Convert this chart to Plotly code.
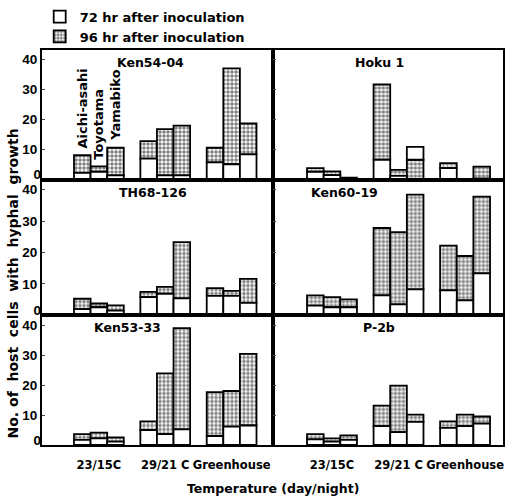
import plotly.graph_objects as go
from plotly.subplots import make_subplots

cultivars = ["Aichi-asahi", "Toyotama", "Yamabiko"]
conditions = ["23/15C", "29/21 C", "Greenhouse"]
isolates = ["Ken54-04", "Hoku 1", "TH68-126", "Ken60-19", "Ken53-33", "P-2b"]
y_ticks = [0, 10, 20, 30, 40]

# values ordered condition-major, cultivar-minor
ken5404_72 = [2.2, 2.6, 1.4, 7.0, 1.4, 1.4, 5.7, 5.1, 8.4]
ken5404_96 = [8.1, 4.4, 10.6, 12.8, 16.8, 18.0, 10.6, 37.1, 18.7]
hoku1_72 = [2.6, 1.5, 0.0, 6.6, 1.2, 10.9, 3.8, 0.0, 0.3]
hoku1_96 = [3.8, 2.7, 0.6, 31.7, 3.2, 6.6, 5.5, 0.0, 4.3]
th68_72 = [2.0, 2.6, 1.5, 5.8, 6.9, 5.4, 6.2, 6.2, 4.0]
th68_96 = [5.3, 3.8, 3.2, 7.5, 9.1, 23.3, 8.7, 7.8, 11.6]
ken6019_72 = [3.1, 2.6, 2.6, 6.4, 3.5, 8.3, 8.0, 4.8, 13.4]
ken6019_96 = [6.4, 5.8, 5.1, 27.8, 26.5, 38.4, 22.2, 18.9, 37.8]
ken5333_72 = [1.7, 2.2, 1.1, 5.0, 3.6, 5.2, 3.0, 6.1, 6.5]
ken5333_96 = [3.6, 4.1, 2.5, 7.9, 23.9, 39.0, 17.6, 18.0, 30.4]
p2b_72 = [1.9, 1.1, 1.7, 6.3, 4.3, 7.7, 5.7, 6.3, 7.1]
p2b_96 = [3.6, 2.2, 3.2, 13.1, 19.8, 10.1, 7.9, 10.1, 9.5]

series72 = [ken5404_72, hoku1_72, th68_72, ken6019_72, ken5333_72, p2b_72]
series96 = [ken5404_96, hoku1_96, th68_96, ken6019_96, ken5333_96, p2b_96]

BW = 0.25
xs = [g + (c - 1) * BW for g in range(len(conditions)) for c in range(len(cultivars))]

WIDE = "DejaVu Sans"
NARROW = "Liberation Sans"
fig = make_subplots(rows=3, cols=2, horizontal_spacing=0, vertical_spacing=0)

pattern = dict(shape=".", fgcolor="black", bgcolor="white", size=4, solidity=0.6)

for i, name in enumerate(isolates):
    r, c = i // 2 + 1, i % 2 + 1
    v72, v96 = series72[i], series96[i]
    wb, wh, db, dh = [], [], [], []
    for a, b in zip(v72, v96):
        if a <= b:
            wb.append(0); wh.append(a); db.append(a); dh.append(b - a)
        else:
            db.append(0); dh.append(b); wb.append(b); wh.append(a - b)
    fig.add_trace(go.Bar(x=xs, y=dh, base=db, width=BW, name="96 hr after inoculation",
                         legendgroup="96", showlegend=(i == 0), legendrank=2,
                         marker=dict(color="white", pattern=pattern,
                                     line=dict(color="black", width=1.8))), row=r, col=c)
    fig.add_trace(go.Bar(x=xs, y=wh, base=wb, width=BW, name="72 hr after inoculation",
                         legendgroup="72", showlegend=(i == 0), legendrank=1,
                         marker=dict(color="white", line=dict(color="black", width=1.8))),
                  row=r, col=c)

xdom = {1: [0, 0.502], 2: [0.502, 1]}
ydom = {1: [0.672, 1], 2: [0.328, 0.672], 3: [0, 0.328]}
xrng = {1: [-0.857, 2.63], 2: [-0.88, 2.57]}
YR = [0, 43.2]
tickfont_y = dict(family=NARROW, size=13.5, color="black", weight="bold")

for i, name in enumerate(isolates):
    r, c = i // 2 + 1, i % 2 + 1
    fig.update_xaxes(domain=xdom[c], range=xrng[c], showline=True, mirror=True,
                     linecolor="black", linewidth=2, showgrid=False, zeroline=False,
                     tickvals=[0, 1, 2], ticktext=conditions, ticks="",
                     ticklabelstandoff=8, tickangle=0,
                     showticklabels=(r == 3), row=r, col=c,
                     tickfont=dict(family=WIDE, size=11.5, color="black", weight="bold"))
    fig.update_yaxes(domain=ydom[r], range=YR, showline=True, mirror=True,
                     linecolor="black", linewidth=2, showgrid=False, zeroline=False,
                     tickvals=y_ticks, ticktext=[""] + [str(t) for t in y_ticks[1:]],
                     ticks="inside", ticklen=3,
                     showticklabels=(c == 1), row=r, col=c, tickfont=tickfont_y)

# separate axes carrying the "0" label of each left panel, nudged up like the original
extra = {}
for k, r in enumerate([1, 2, 3]):
    i = (r - 1) * 2
    xa = "x" if i == 0 else f"x{i+1}"
    ya = "y" if i == 0 else f"y{i+1}"
    new = f"y{7+k}"
    fig.add_trace(go.Scatter(x=[], y=[], xaxis=xa, yaxis=new, showlegend=False,
                             hoverinfo="skip"))
    extra[f"yaxis{7+k}"] = dict(overlaying=ya, anchor=xa, side="left", range=YR,
                                tickvals=y_ticks[:1], ticktext=[str(y_ticks[0])],
                                ticklabelshift=-5, showline=False, ticks="",
                                showgrid=False, zeroline=False, tickfont=tickfont_y)
fig.update_layout(**extra)

titles_pos = {"Ken54-04": 0.47, "Hoku 1": 0.46, "TH68-126": 0.48,
              "Ken60-19": 0.31, "Ken53-33": 0.37, "P-2b": 0.46}
annotations = []
for i, name in enumerate(isolates):
    xref = "x domain" if i == 0 else f"x{i+1} domain"
    yref = "y domain" if i == 0 else f"y{i+1} domain"
    annotations.append(dict(text=name, x=titles_pos[name], y=0.905, xref=xref, yref=yref,
                            xanchor="center", yanchor="middle", showarrow=False,
                            font=dict(family=WIDE, size=12.5, color="black", weight="bold")))

# cultivar labels above first group of first panel
for k, cv in enumerate(cultivars):
    top = max(series72[0][k], series96[0][k])
    annotations.append(dict(text=cv, x=xs[k], y=top, xref="x", yref="y", textangle=-90,
                            xanchor="center", yanchor="bottom", yshift=5, showarrow=False,
                            font=dict(family=WIDE, size=13, color="black", weight="bold")))

annotations.append(dict(text="No. of  host  cells  with  hyphal  growth", x=-0.062, y=0.41,
                        xref="paper", yref="paper", textangle=-90, showarrow=False,
                        xanchor="center", yanchor="middle",
                        font=dict(family=WIDE, size=14, color="black", weight="bold")))
annotations.append(dict(text="Temperature (day/night)", x=0.5, y=-0.111,
                        xref="paper", yref="paper", showarrow=False,
                        xanchor="center", yanchor="middle",
                        font=dict(family=WIDE, size=12.5, color="black", weight="bold")))

fig.update_layout(
    width=507, height=500, barmode="overlay",
    margin=dict(l=42, r=2, t=46, b=55),
    paper_bgcolor="white", plot_bgcolor="white",
    annotations=annotations,
    legend=dict(x=-0.005, y=1.1225, xanchor="left", yanchor="top", orientation="v",
                bgcolor="rgba(0,0,0,0)", itemwidth=30, tracegroupgap=0,
                font=dict(family=WIDE, size=13, color="black", weight="bold")),
)

fig.write_html("out.html")
